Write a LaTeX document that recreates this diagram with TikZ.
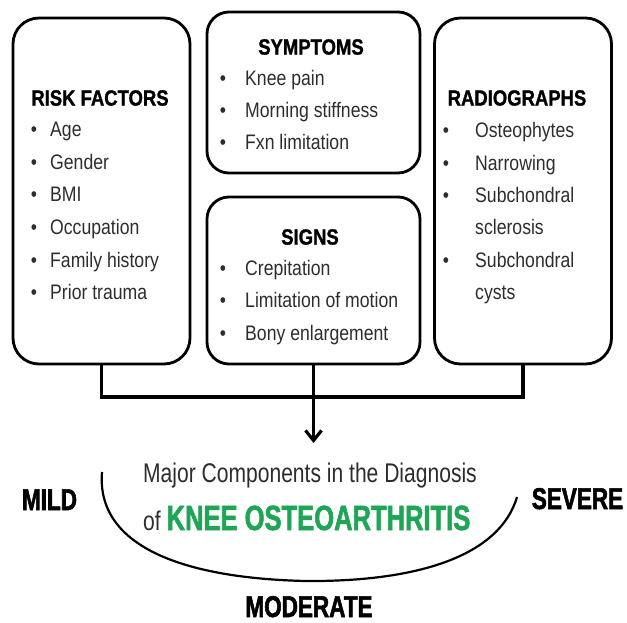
\documentclass[tikz,border=0pt]{standalone}
\usepackage{fontspec}
\setmainfont{Liberation Sans}
\newfontfamily\itemfont[FakeStretch=0.84]{Liberation Sans}
\newfontfamily\headfont[FakeStretch=0.84, BoldFeatures={FakeBold=1.2}]{Liberation Sans}
\newfontfamily\capfont[FakeStretch=0.78]{Liberation Sans}
\newfontfamily\gradefont[FakeStretch=0.75, BoldFeatures={FakeBold=1.8}]{Liberation Sans}
\newfontfamily\greenfont[FakeStretch=0.73, BoldFeatures={FakeBold=1.5}]{Liberation Sans}
\usetikzlibrary{arrows.meta}
\definecolor{oagreen}{RGB}{30,165,85}
\definecolor{itemgrey}{RGB}{45,45,45}
\begin{document}
\begin{tikzpicture}[x=1pt,y=-1pt,
  box/.style={draw=black, line width=2.8pt, rounded corners=26pt, inner sep=0pt},
  sidebox/.style={box, minimum width=177pt, minimum height=346pt},
  midbox/.style={box, rounded corners=22pt, minimum width=213pt},
  heading/.style={font=\headfont\bfseries\fontsize{22}{26}\selectfont, inner sep=0pt, anchor=center},
  bulletmark/.style={font=\itemfont\fontsize{21}{25}\selectfont, text=itemgrey, inner sep=0pt, anchor=mid},
  item/.style={font=\itemfont\fontsize{21}{25}\selectfont, text=itemgrey, inner sep=0pt, anchor=mid west},
  link/.style={line width=3.2pt},
  grade/.style={font=\gradefont\bfseries\fontsize{30}{34}\selectfont, inner sep=0pt, anchor=base}
]
\useasboundingbox (0,0) rectangle (627,623);
\fill[white] (0,0) rectangle (627,623);

% boxes
\node[sidebox] (rf) at (101.5,191) {};
\node[midbox, minimum height=161pt] (sy) at (313.5,92.5) {};
\node[midbox, minimum height=167pt] (sg) at (313.5,280.5) {};
\node[sidebox] (ra) at (523,191) {};

% headings
\node[heading] (rfh) at (100,98) {RISK FACTORS};
\node[heading] (syh) at (311,47) {SYMPTOMS};
\node[heading] (sgh) at (310,237) {SIGNS};
\node[heading] (rah) at (517,98) {RADIOGRAPHS};

% risk factors
\foreach \t [count=\i] in {Age,Gender,BMI,Occupation,Family history,Prior trauma} {
  \node[bulletmark] (rfb\i) at (34,{134+32.6*(\i-1)}) {•};
  \node[item] (rfi\i) at (50,{134+32.6*(\i-1)}) {\t};
}
% symptoms
\foreach \t [count=\i] in {Knee pain,Morning stiffness,Fxn limitation} {
  \node[bulletmark] (syb\i) at (223,{82.5+32*(\i-1)}) {•};
  \node[item] (syi\i) at (245,{82.5+32*(\i-1)}) {\t};
}
% signs
\foreach \t [count=\i] in {Crepitation,Limitation of motion,Bony enlargement} {
  \node[bulletmark] (sgb\i) at (223,{273+32.3*(\i-1)}) {•};
  \node[item] (sgi\i) at (245,{273+32.3*(\i-1)}) {\t};
}
% radiographs
\foreach \b/\t [count=\i] in {1/Osteophytes,1/Narrowing,1/Subchondral,0/sclerosis,1/Subchondral,0/cysts} {
  \node[item] (rai\i) at (475,{135+32.4*(\i-1)}) {\t};
  \ifnum\b=1 \node[bulletmark] (rab\i) at (446,{135+32.4*(\i-1)}) {•};\fi
}

% connectors
\coordinate (jn) at (311,397);
\coordinate (tip) at (311,443);
\draw[link] (rf.south) |- (jn) -| (ra.south);
\draw[link, -{Straight Barb[length=10pt,width=16pt]}] (sg.south) -- (sg.south |- tip);

% arc
\coordinate (arcL) at (102,472);
\coordinate (arcB) at (305,581);
\coordinate (arcR) at (517,497);
\draw[line width=2.2pt] (arcL) .. controls (96,545) and (180,578) .. (arcB)
  .. controls (420,582) and (500,555) .. (arcR);

% bottom texts
\node[font=\capfont\fontsize{27}{30}\selectfont, inner sep=0pt, anchor=base, text=itemgrey] (maj) at (310,482) {Major Components in the Diagnosis};
\node[font=\capfont\fontsize{27}{30}\selectfont, inner sep=0pt, anchor=base west, text=itemgrey] (oa) at (143,530) {of {\greenfont\bfseries\fontsize{35}{38}\selectfont\color{oagreen}KNEE OSTEOARTHRITIS}};

\node[grade] (mild) at (49.5,510) {MILD};
\node[grade] (sev) at (577.5,509) {SEVERE};
\node[grade] (mod) at (309,617) {MODERATE};
\end{tikzpicture}
\end{document}
